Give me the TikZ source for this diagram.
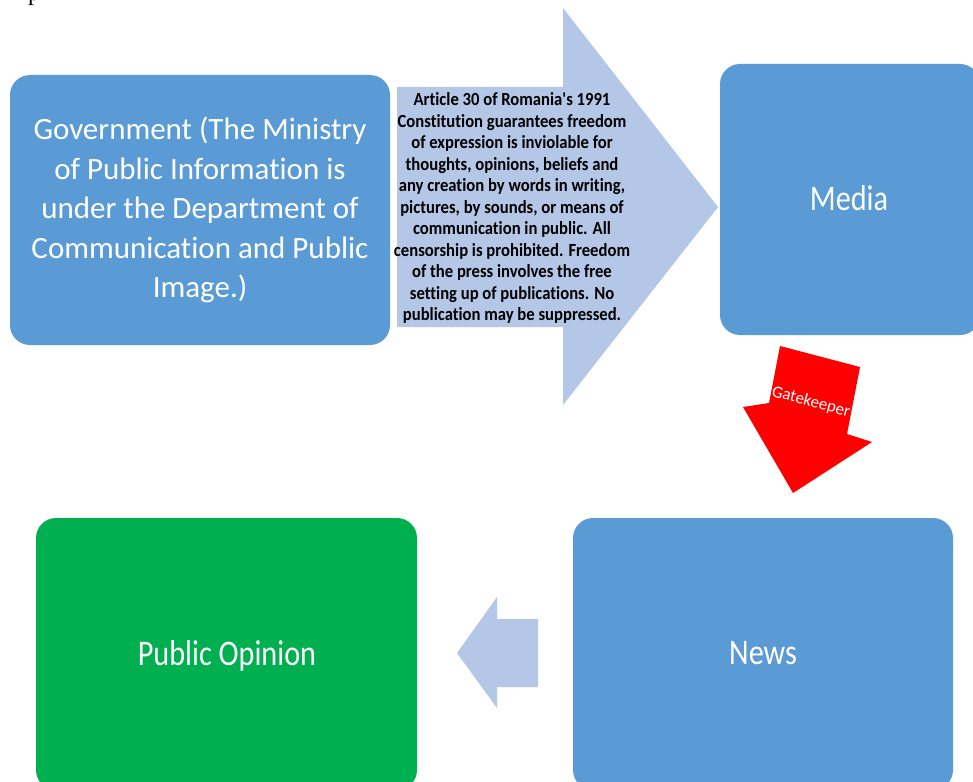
\documentclass[tikz,border=0pt]{standalone}
\usepackage{fontspec}
\setmainfont[Ligatures=NoCommon]{Carlito}
\newfontfamily\narrowcal[FakeStretch=0.84,Ligatures=NoCommon]{Carlito}
\newfontfamily\articlecal[FakeStretch=0.9,Ligatures=NoCommon]{Carlito}
\newfontfamily\plaincal[Ligatures=NoCommon]{Carlito}
\newfontfamily\notefont{Liberation Serif}
\usetikzlibrary{calc}

\definecolor{boxblue}{HTML}{5B9BD5}
\definecolor{arrowblue}{HTML}{B4C7E7}
\definecolor{boxgreen}{HTML}{00B050}
\definecolor{gaterred}{HTML}{FF0000}

\begin{document}
\begin{tikzpicture}[x=1pt,y=-1pt,
  stagebox/.style={rounded corners=20pt, inner sep=0pt},
  boxlabel/.style={text=white, font=\narrowcal\fontsize{36}{40}\selectfont, inner sep=0pt, anchor=base},
  blockarrow/.style={fill=arrowblue, draw=none},
]
\useasboundingbox (0,0) rectangle (973,781);
\clip (0,0) rectangle (973,781);
\fill[white] (0,0) rectangle (973,781);

% stray letter tail at the top edge
\node[font=\notefont\fontsize{24}{24}\selectfont, text=black, inner sep=0pt, anchor=base] (stray) at (34,1) {p};

% the four stages
\fill[boxblue, stagebox] (10,75) rectangle (390,345);
\coordinate (govc) at (200,210);
\node[text=white, align=center, inner sep=0pt,
      font=\plaincal\fontsize{31}{39.5}\selectfont] (gov) at (govc)
  {Government (The Ministry\\ of Public Information is\\ under the Department of\\ Communication and Public\\ Image.)};

\fill[boxblue, stagebox] (720,64) rectangle (980,335);
\node[boxlabel] (media) at (849,210) {Media};

\fill[boxblue, stagebox] (573,518) rectangle (953,790);
\node[boxlabel] (news) at (763,664) {News};

\fill[boxgreen, stagebox] (36,518) rectangle (417,790);
\node[boxlabel] (opinion) at (227,665) {Public Opinion};

% large arrow carrying the constitutional text
\coordinate (bodyTL) at (397,87);
\coordinate (bodyBL) at (397,327);
\coordinate (neckT) at (563,87);
\coordinate (neckB) at (563,327);
\coordinate (headT) at (563,8);
\coordinate (headB) at (563,405);
\coordinate (tipR) at (718,207);
\fill[blockarrow] (bodyTL) -- (neckT) -- (headT) -- (tipR) -- (headB) -- (neckB) -- (bodyBL) -- cycle;
\node[text=black, align=center, inner sep=0pt,
      font=\articlecal\bfseries\fontsize{18.5}{21.5}\selectfont] (article) at (512,208)
  {Article 30 of Romania's 1991\\ Constitution guarantees freedom\\ of expression is inviolable for\\ thoughts, opinions, beliefs and\\ any creation by words in writing,\\ pictures, by sounds, or means of\\ communication in public. All\\ censorship is prohibited. Freedom\\ of the press involves the free\\ setting up of publications. No\\ publication may be suppressed.};

% tilted red gatekeeper arrow
\coordinate (gTL) at (780,346);
\coordinate (gTR) at (860,367);
\coordinate (gBR) at (847,434);
\coordinate (gHR) at (872,442);
\coordinate (gTip) at (793,493);
\coordinate (gHL) at (743,407);
\coordinate (gBL) at (769,403);
\fill[gaterred] (gTL) -- (gTR) -- (gBR) -- (gHR) -- (gTip) -- (gHL) -- (gBL) -- cycle;
\node[text=white, rotate=-15, inner sep=0pt,
      font=\plaincal\fontsize{17}{17}\selectfont] (gate) at (811,402) {Gatekeeper};

% small arrow from News to Public Opinion
\coordinate (lTip) at (457,653);
\coordinate (lHT) at (497,597);
\coordinate (lHB) at (497,708);
\coordinate (lBT) at (497,619);
\coordinate (lBB) at (497,687);
\coordinate (lRT) at (538,619);
\coordinate (lRB) at (538,687);
\fill[blockarrow] (lTip) -- (lHT) -- (lBT) -- (lRT) -- (lRB) -- (lBB) -- (lHB) -- cycle;
\end{tikzpicture}
\end{document}
